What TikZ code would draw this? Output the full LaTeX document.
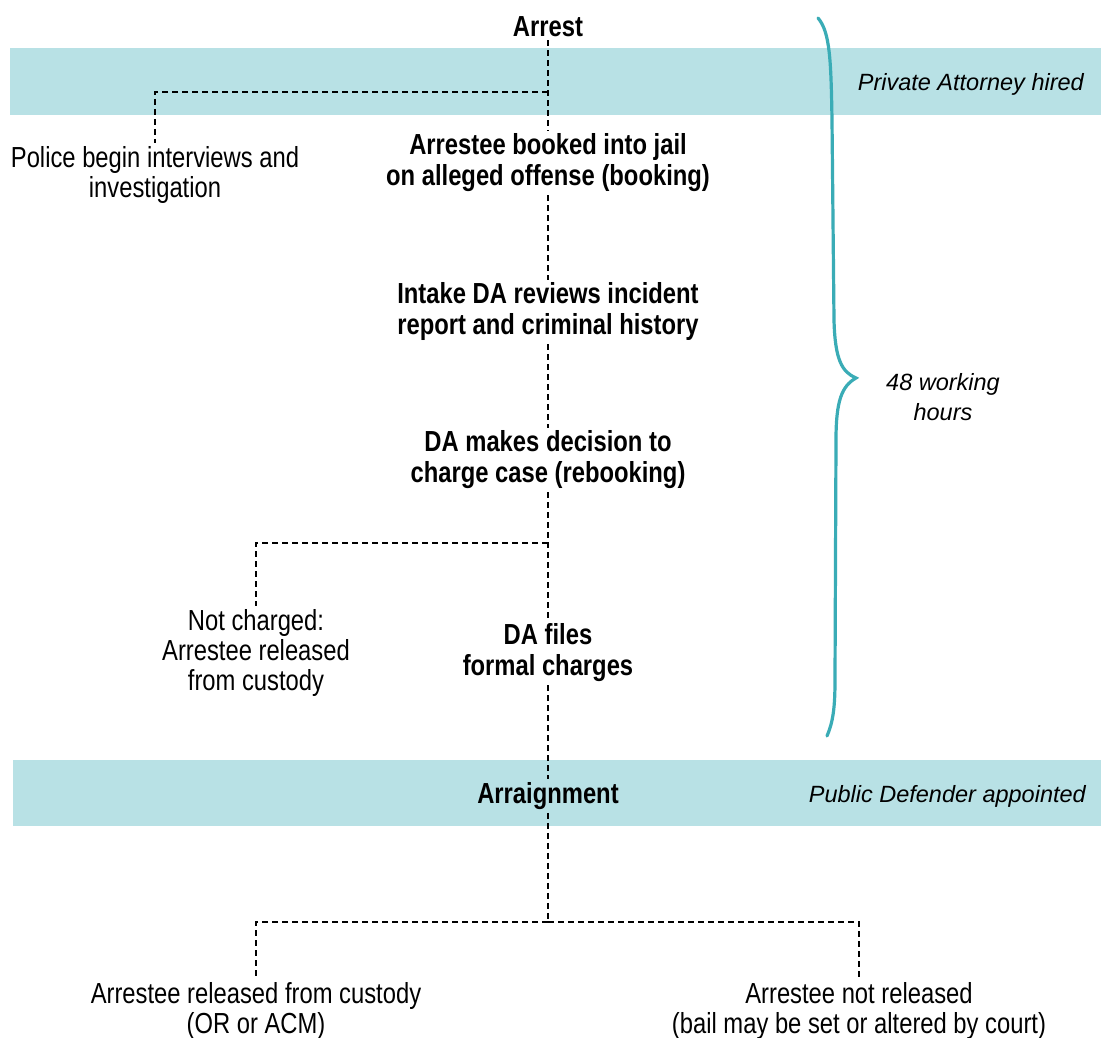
\documentclass[tikz,border=0pt]{standalone}
\usepackage{fontspec}
\setmainfont{Liberation Sans}
\newfontfamily\cond{Liberation Sans}[FakeStretch=0.82]
\newfontfamily\ital{Liberation Sans}
\definecolor{band}{HTML}{B8E1E5}
\definecolor{brace}{HTML}{3AACB6}
\begin{document}
\begin{tikzpicture}[x=1pt,y=-1pt,
  step node/.style={align=center,inner sep=3pt,font=\cond\bfseries\fontsize{29}{31}\selectfont},
  out node/.style={align=center,inner sep=3pt,font=\cond\fontsize{29}{30}\selectfont},
  side label/.style={align=center,inner sep=0pt,font=\ital\itshape\fontsize{23.5}{30}\selectfont},
  dl/.style={draw=black,line width=2.5pt,dash pattern=on 6pt off 4pt}]
\useasboundingbox (0,0) rectangle (1101,1038);
\fill[white] (0,0) rectangle (1101,1038);
% bands
\fill[band] (10,48) rectangle (1101,115);
\fill[band] (13,760) rectangle (1101,826);
% brace
\draw[brace,line width=3.2pt,line cap=round]
  (818,18) .. controls (830,32) and (831,60) .. (832,120)
  -- (834,320) .. controls (835,360) and (842,372) .. (856,378)
  .. controls (842,386) and (836,400) .. (836,440)
  -- (835,680) .. controls (835,708) and (833,722) .. (827,736);
% nodes
\node[step node] (arrest) at (548,27) {Arrest};
\node[step node] (booking) at (548,163) {Arrestee booked into jail\\on alleged offense (booking)};
\node[step node] (intake) at (548,312) {Intake DA reviews incident\\report and criminal history};
\node[step node] (decision) at (548,460) {DA makes decision to\\charge case (rebooking)};
\node[step node] (files) at (548,653) {DA files\\formal charges};
\node[step node] (arraign) at (548,796) {Arraignment};
\node[out node] (police) at (155,175) {Police begin interviews and\\investigation};
\node[out node] (notch) at (256,653) {Not charged:\\Arrestee released\\from custody};
\node[out node] (released) at (256,1011) {Arrestee released from custody\\(OR or ACM)};
\node[out node] (notrel) at (859,1011) {Arrestee not released\\(bail may be set or altered by court)};
\node[side label,anchor=east] (priv) at (1084,84) {Private Attorney hired};
\node[side label,anchor=east] (pub) at (1086,796) {Public Defender appointed};
\node[side label] (hours) at (943,397) {48 working\\hours};
% connectors
\coordinate (b1) at (548,92);
\coordinate (b2) at (548,543);
\coordinate (b3) at (548,922);
\draw[dl] (arrest) -- (booking);
\draw[dl] (b1) -| (police);
\draw[dl] (booking) -- (intake);
\draw[dl] (intake) -- (decision);
\draw[dl] (decision) -- (files);
\draw[dl] (b2) -| (notch);
\draw[dl] (files) -- (arraign);
\draw[dl] (arraign) -- (b3);
\draw[dl] (b3) -| (released);
\draw[dl] (b3) -| (notrel);
\end{tikzpicture}
\end{document}
